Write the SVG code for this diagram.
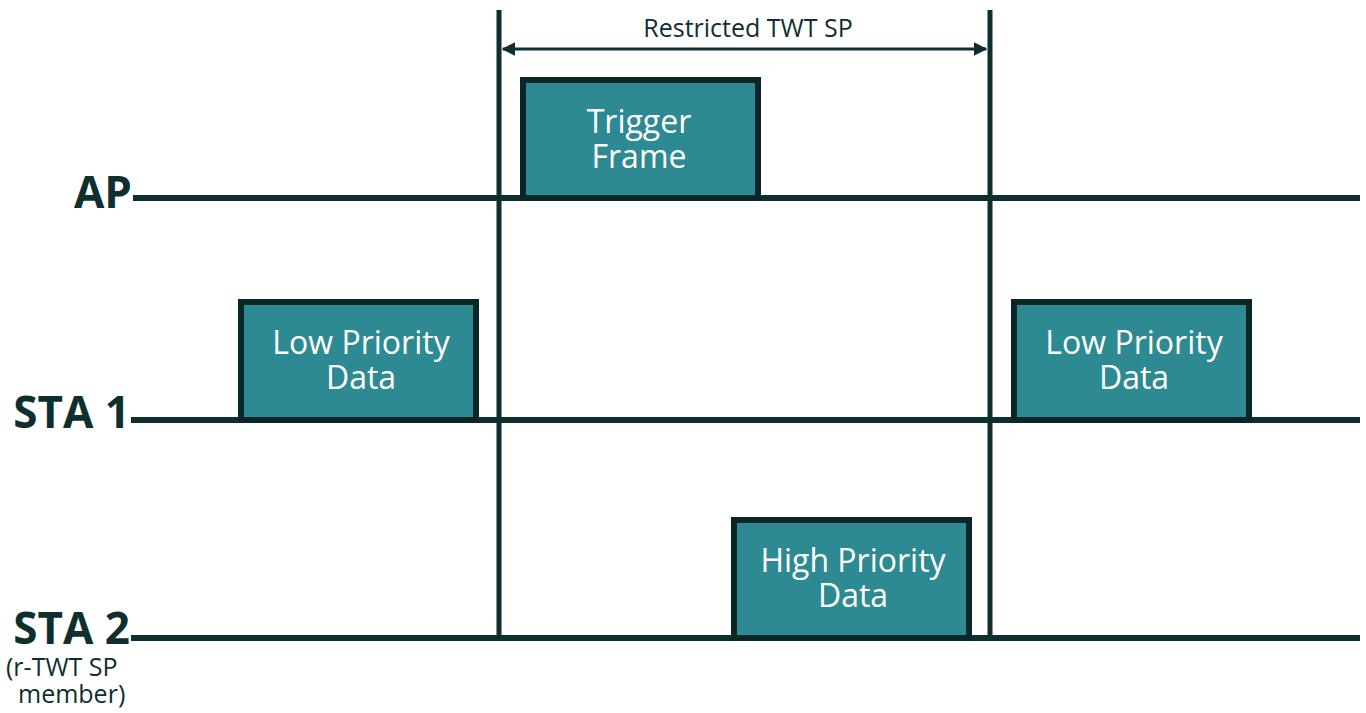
<svg xmlns="http://www.w3.org/2000/svg" width="1366" height="713" viewBox="0 0 1366 713">
  <style>
    .line { stroke: #0f2e2e; stroke-width: 6; fill: none; }
    .vline { stroke: #0f2e2e; stroke-width: 5; fill: none; }
    .frame { fill: #2e8a92; stroke: #0a2626; stroke-width: 6; }
    .ftext { fill: #ffffff; font-family: "Open Sans", "Noto Sans", sans-serif; font-size: 32px; text-anchor: middle; }
    .lbl { fill: #0f2e2e; font-family: "Open Sans", "Noto Sans", sans-serif; font-weight: bold; font-size: 44px; text-anchor: end; }
    .sub { fill: #0f2e2e; font-family: "Open Sans", "Noto Sans", sans-serif; font-size: 25px; }
    .span { stroke: #0f2e2e; stroke-width: 3; fill: none; }
  </style>
  <defs>
    <marker id="arr" viewBox="0 0 10 10" refX="9" refY="5" markerWidth="4.5" markerHeight="4.5" orient="auto-start-reverse">
      <path d="M0,0 L10,5 L0,10 z" fill="#0f2e2e"/>
    </marker>
  </defs>

  <!-- timelines and span markers -->
  <g id="connectors">
    <line class="line" x1="133" y1="198" x2="1360" y2="198"/>
    <line class="line" x1="131" y1="420" x2="1360" y2="420"/>
    <line class="line" x1="131" y1="638" x2="1360" y2="638"/>
    <line class="vline" x1="499" y1="10" x2="499" y2="641"/>
    <line class="vline" x1="990" y1="10" x2="990" y2="641"/>
    <line class="span" x1="503" y1="49" x2="986" y2="49" marker-start="url(#arr)" marker-end="url(#arr)"/>
  </g>

  <g id="span-label">
    <text x="748" y="37" font-family="'Open Sans', 'Noto Sans', sans-serif" font-size="25" fill="#0f2e2e" text-anchor="middle">Restricted TWT SP</text>
  </g>

  <!-- station labels -->
  <g id="label-ap"><text class="lbl" x="132" y="208">AP</text></g>
  <g id="label-sta1"><text class="lbl" x="130" y="428">STA 1</text></g>
  <g id="label-sta2">
    <text class="lbl" x="130" y="644">STA 2</text>
    <text class="sub" x="6" y="676">(r-TWT SP</text>
    <text class="sub" x="18" y="703">member)</text>
  </g>

  <!-- frames -->
  <g id="trigger-frame">
    <rect class="frame" x="523" y="80" width="235" height="118"/>
    <text class="ftext" x="639" y="133">Trigger</text>
    <text class="ftext" x="639" y="168">Frame</text>
  </g>
  <g id="sta1-low-left">
    <rect class="frame" x="241" y="302" width="235" height="118"/>
    <text class="ftext" x="361" y="354">Low Priority</text>
    <text class="ftext" x="361" y="389">Data</text>
  </g>
  <g id="sta1-low-right">
    <rect class="frame" x="1014" y="302" width="235" height="118"/>
    <text class="ftext" x="1134" y="354">Low Priority</text>
    <text class="ftext" x="1134" y="389">Data</text>
  </g>
  <g id="sta2-high">
    <rect class="frame" x="734" y="520" width="235" height="118"/>
    <text class="ftext" x="853" y="572">High Priority</text>
    <text class="ftext" x="853" y="607">Data</text>
  </g>
</svg>
